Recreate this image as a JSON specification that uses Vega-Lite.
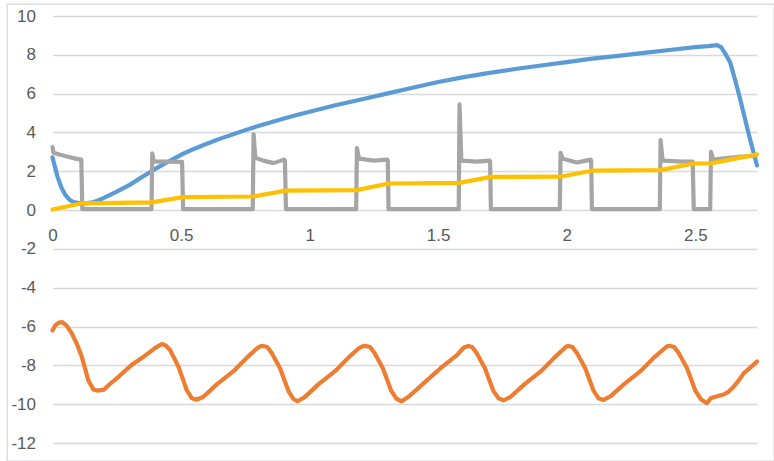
{
  "$schema": "https://vega.github.io/schema/vega-lite/v6.json",
  "width": 767,
  "height": 457,
  "autosize": {"type": "none"},
  "padding": {"left": 7, "top": 4, "right": 0, "bottom": 0},
  "background": "white",
  "config": {
    "view": {"stroke": "#d9d9d9", "strokeWidth": 1.3},
    "axis": {"labelFont": "Liberation Sans", "labelFontSize": 17, "labelColor": "#595959"}
  },
  "datasets": {
    "blue": [
      {"x":0,"y":2.72},{"x":0.01,"y":2.2},{"x":0.02,"y":1.7},{"x":0.035,"y":1.15},{"x":0.05,"y":0.78},{"x":0.065,"y":0.55},{"x":0.08,"y":0.42},{"x":0.1,"y":0.37},{"x":0.125,"y":0.35},{"x":0.15,"y":0.38},{"x":0.175,"y":0.48},{"x":0.2,"y":0.63},{"x":0.25,"y":0.95},{"x":0.3,"y":1.3},{"x":0.35,"y":1.72},{"x":0.4,"y":2.12},{"x":0.45,"y":2.5},{"x":0.5,"y":2.85},{"x":0.55,"y":3.15},{"x":0.6,"y":3.42},{"x":0.65,"y":3.67},{"x":0.7,"y":3.9},{"x":0.75,"y":4.12},{"x":0.8,"y":4.33},{"x":0.85,"y":4.53},{"x":0.9,"y":4.72},{"x":0.95,"y":4.9},{"x":1.0,"y":5.07},{"x":1.1,"y":5.4},{"x":1.2,"y":5.7},{"x":1.3,"y":6.0},{"x":1.4,"y":6.3},{"x":1.5,"y":6.6},{"x":1.6,"y":6.85},{"x":1.7,"y":7.07},{"x":1.8,"y":7.27},{"x":1.9,"y":7.45},{"x":2.0,"y":7.62},{"x":2.1,"y":7.8},{"x":2.2,"y":7.95},{"x":2.3,"y":8.1},{"x":2.4,"y":8.25},{"x":2.5,"y":8.4},{"x":2.55,"y":8.45},{"x":2.585,"y":8.5},{"x":2.6,"y":8.4},{"x":2.615,"y":8.1},{"x":2.636,"y":7.6},{"x":2.655,"y":6.7},{"x":2.675,"y":5.7},{"x":2.695,"y":4.6},{"x":2.714,"y":3.6},{"x":2.73,"y":2.8},{"x":2.74,"y":2.3}
    ],
    "orange": [
      {"x":0,"y":-6.2},{"x":0.01,"y":-5.95},{"x":0.025,"y":-5.8},{"x":0.038,"y":-5.77},{"x":0.055,"y":-5.95},{"x":0.075,"y":-6.35},{"x":0.095,"y":-6.9},{"x":0.114,"y":-7.56},{"x":0.139,"y":-8.76},{"x":0.159,"y":-9.24},{"x":0.175,"y":-9.3},{"x":0.2,"y":-9.25},{"x":0.22,"y":-9.0},{"x":0.26,"y":-8.55},{"x":0.31,"y":-7.95},{"x":0.36,"y":-7.5},{"x":0.4,"y":-7.1},
      {"x":0.425,"y":-6.9},{"x":0.44,"y":-6.98},{"x":0.457,"y":-7.2},{"x":0.49,"y":-8.07},{"x":0.522,"y":-9.27},{"x":0.541,"y":-9.68},{"x":0.56,"y":-9.77},{"x":0.587,"y":-9.62},{"x":0.639,"y":-8.98},{"x":0.704,"y":-8.3},{"x":0.756,"y":-7.6},{"x":0.795,"y":-7.13},{"x":0.808,"y":-7.02},
      {"x":0.82,"y":-7.0},{"x":0.835,"y":-7.05},{"x":0.852,"y":-7.35},{"x":0.885,"y":-8.15},{"x":0.917,"y":-9.3},{"x":0.936,"y":-9.72},{"x":0.952,"y":-9.85},{"x":0.98,"y":-9.65},{"x":1.034,"y":-8.98},{"x":1.099,"y":-8.3},{"x":1.151,"y":-7.6},{"x":1.19,"y":-7.13},{"x":1.205,"y":-7.02},
      {"x":1.22,"y":-7.0},{"x":1.235,"y":-7.05},{"x":1.252,"y":-7.35},{"x":1.285,"y":-8.15},{"x":1.317,"y":-9.3},{"x":1.338,"y":-9.72},{"x":1.358,"y":-9.85},{"x":1.385,"y":-9.62},{"x":1.443,"y":-8.93},{"x":1.508,"y":-8.16},{"x":1.573,"y":-7.47},{"x":1.6,"y":-7.08},
      {"x":1.617,"y":-7.0},{"x":1.632,"y":-7.05},{"x":1.649,"y":-7.35},{"x":1.682,"y":-8.15},{"x":1.714,"y":-9.3},{"x":1.735,"y":-9.7},{"x":1.754,"y":-9.8},{"x":1.782,"y":-9.62},{"x":1.835,"y":-8.98},{"x":1.9,"y":-8.3},{"x":1.952,"y":-7.6},{"x":1.99,"y":-7.13},{"x":2.0,"y":-7.02},
      {"x":2.007,"y":-7.0},{"x":2.022,"y":-7.05},{"x":2.039,"y":-7.35},{"x":2.072,"y":-8.15},{"x":2.104,"y":-9.3},{"x":2.124,"y":-9.7},{"x":2.143,"y":-9.78},{"x":2.17,"y":-9.6},{"x":2.222,"y":-8.98},{"x":2.287,"y":-8.3},{"x":2.339,"y":-7.6},{"x":2.38,"y":-7.13},{"x":2.39,"y":-7.02},
      {"x":2.403,"y":-7.0},{"x":2.418,"y":-7.05},{"x":2.435,"y":-7.35},{"x":2.468,"y":-8.15},{"x":2.5,"y":-9.3},{"x":2.522,"y":-9.75},{"x":2.545,"y":-9.95},{"x":2.56,"y":-9.7},{"x":2.578,"y":-9.62},{"x":2.61,"y":-9.5},{"x":2.63,"y":-9.35},{"x":2.649,"y":-9.1},{"x":2.668,"y":-8.8},{"x":2.688,"y":-8.41},{"x":2.715,"y":-8.1},{"x":2.74,"y":-7.8}
    ],
    "gray": [
      {"x":0,"y":3.25},{"x":0.004,"y":2.95},{"x":0.03,"y":2.85},{"x":0.06,"y":2.75},{"x":0.09,"y":2.65},{"x":0.112,"y":2.6},{"x":0.116,"y":0.05},
      {"x":0.385,"y":0.05},{"x":0.388,"y":2.92},{"x":0.394,"y":2.5},{"x":0.45,"y":2.5},{"x":0.504,"y":2.48},{"x":0.508,"y":0.05},
      {"x":0.779,"y":0.05},{"x":0.782,"y":3.9},{"x":0.789,"y":2.7},{"x":0.82,"y":2.55},{"x":0.86,"y":2.42},{"x":0.9,"y":2.6},{"x":0.904,"y":2.55},{"x":0.908,"y":0.05},
      {"x":1.181,"y":0.05},{"x":1.184,"y":3.2},{"x":1.192,"y":2.65},{"x":1.25,"y":2.55},{"x":1.302,"y":2.6},{"x":1.304,"y":2.55},{"x":1.307,"y":0.05},
      {"x":1.58,"y":0.05},{"x":1.583,"y":5.45},{"x":1.59,"y":2.55},{"x":1.65,"y":2.5},{"x":1.7,"y":2.55},{"x":1.702,"y":2.5},{"x":1.705,"y":0.05},
      {"x":1.973,"y":0.05},{"x":1.976,"y":2.95},{"x":1.985,"y":2.65},{"x":2.04,"y":2.45},{"x":2.093,"y":2.6},{"x":2.095,"y":2.55},{"x":2.098,"y":0.05},
      {"x":2.362,"y":0.05},{"x":2.365,"y":3.6},{"x":2.373,"y":2.55},{"x":2.45,"y":2.5},{"x":2.49,"y":2.5},{"x":2.494,"y":0.05},
      {"x":2.558,"y":0.05},{"x":2.561,"y":3.0},{"x":2.57,"y":2.6},{"x":2.62,"y":2.68},{"x":2.68,"y":2.75},{"x":2.735,"y":2.8}
    ],
    "yellow": [
      {"x":0,"y":0.03},{"x":0.115,"y":0.35},{"x":0.385,"y":0.4},{"x":0.508,"y":0.67},{"x":0.78,"y":0.7},{"x":0.908,"y":1.0},{"x":1.183,"y":1.03},{"x":1.307,"y":1.37},{"x":1.582,"y":1.4},{"x":1.705,"y":1.71},{"x":1.975,"y":1.72},{"x":2.097,"y":2.03},{"x":2.364,"y":2.06},{"x":2.494,"y":2.4},{"x":2.561,"y":2.41},{"x":2.74,"y":2.87}
    ]
  },
  "encoding": {
    "x": {
      "field": "x", "type": "quantitative",
      "scale": {"domain": [0, 2.74], "range": [45.5, 750], "nice": false, "zero": false},
      "axis": {
        "title": null, "values": [0, 0.5, 1, 1.5, 2, 2.5], "grid": false, "ticks": false, "domain": false,
        "labelFlush": false, "labelOverlap": false, "offset": -251, "labelPadding": 17,
        "labelExpr": "'' + datum.value"
      }
    },
    "y": {
      "field": "y", "type": "quantitative",
      "scale": {"domain": [-12, 10], "range": [439, 12], "nice": false, "zero": false},
      "axis": {
        "title": null, "values": [-12, -10, -8, -6, -4, -2, 0, 2, 4, 6, 8, 10], "grid": true,
        "gridColor": "#d9d9d9", "gridWidth": 1.5, "ticks": false, "domain": false,
        "offset": -45.5, "labelPadding": 17, "labelOverlap": false,
        "labelExpr": "'' + datum.value"
      }
    }
  },
  "layer": [
    {"data": {"name": "blue"}, "mark": {"type": "line", "color": "#5b9bd5", "strokeWidth": 4.2, "strokeCap": "round", "strokeJoin": "round"}},
    {"data": {"name": "orange"}, "mark": {"type": "line", "color": "#ed7d31", "strokeWidth": 4.2, "strokeCap": "round", "strokeJoin": "round"}},
    {"data": {"name": "gray"}, "mark": {"type": "line", "color": "#a5a5a5", "strokeWidth": 4.2, "strokeCap": "round", "strokeJoin": "round"}},
    {"data": {"name": "yellow"}, "mark": {"type": "line", "color": "#ffc000", "strokeWidth": 4.2, "strokeCap": "round", "strokeJoin": "round"}}
  ]
}
